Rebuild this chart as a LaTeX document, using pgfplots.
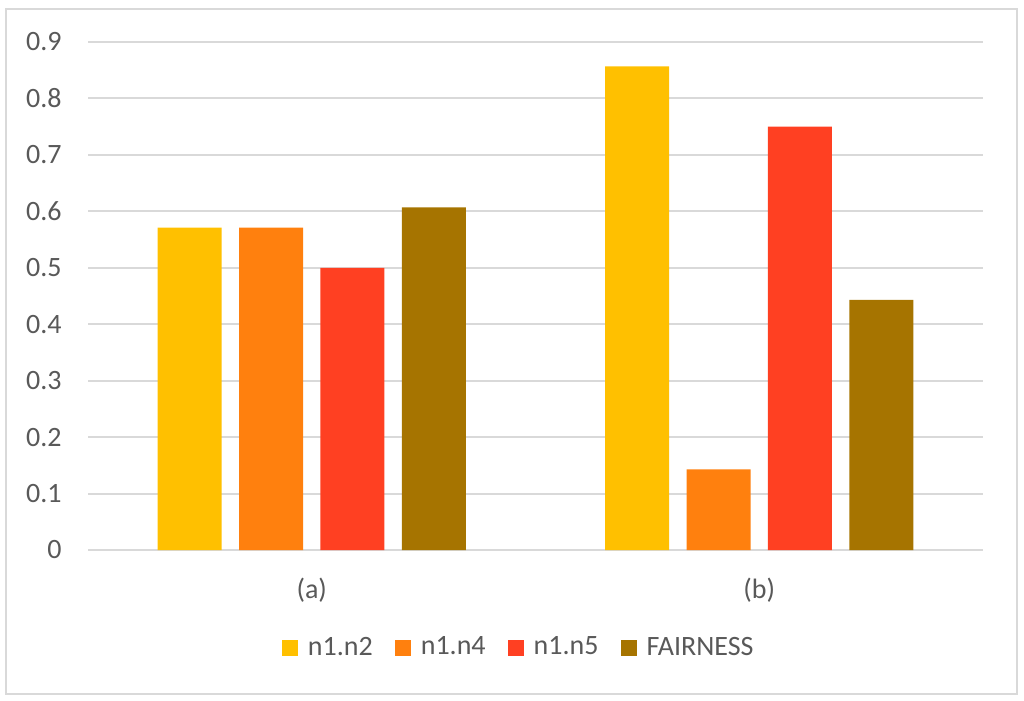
\documentclass[border=0pt]{standalone}
\usepackage{fontspec}
\setmainfont{Carlito}
\usepackage{pgfplots}
\pgfplotsset{compat=1.18}
\definecolor{cA}{HTML}{FFC000}
\definecolor{cB}{HTML}{FF800E}
\definecolor{cC}{HTML}{FF4022}
\definecolor{cD}{HTML}{A67400}
\definecolor{gridc}{HTML}{D9D9D9}
\definecolor{txt}{HTML}{595959}
\begin{document}
\fontsize{14pt}{17pt}\selectfont
\begin{tikzpicture}
\useasboundingbox (0pt,0pt) rectangle (512pt,-350.5pt);
\draw[gridc, line width=1pt] (3pt,-4.5pt) rectangle (508.5pt,-347pt);
\begin{axis}[
  at={(44pt,-275pt)}, anchor=south west,
  scale only axis, width=447.5pt, height=254pt,
  ymin=0, ymax=0.9, xmin=-0.5, xmax=1.5,
  ytick={0,0.1,...,0.9},
  yticklabels={0,0.1,0.2,0.3,0.4,0.5,0.6,0.7,0.8,0.9},
  xtick={0,1}, xticklabels={(a),(b)},
  major tick length=0pt,
  axis line style={draw=none},
  ymajorgrids, grid style={gridc, line width=1pt},
  ybar=8.7pt, bar width=32pt,
  tick label style={font=\fontsize{14pt}{17pt}\selectfont, text=txt},
  yticklabel style={xshift=-8.3pt},
  xticklabel style={yshift=-9pt},
  /pgf/number format/assume math mode=true,
  legend columns=4,
  legend style={at={(0.4824,-0.193)}, anchor=center, draw=none, fill=none,
    font=\fontsize{14pt}{17pt}\selectfont, text=txt,
    /tikz/every even column/.append style={column sep=9pt}},
  legend image code/.code={\fill[#1,draw=none] (0pt,-4pt) rectangle (8pt,4pt); \path (11pt,0pt);},
  clip=false,
]
\addplot[fill=cA, draw=none] coordinates {(0,0.571) (1,0.857)};
\addplot[fill=cB, draw=none] coordinates {(0,0.571) (1,0.143)};
\addplot[fill=cC, draw=none] coordinates {(0,0.500) (1,0.750)};
\addplot[fill=cD, draw=none] coordinates {(0,0.607) (1,0.443)};
\legend{n1.n2, n1.n4, n1.n5, FAIRNESS}
\end{axis}
\end{tikzpicture}
\end{document}
